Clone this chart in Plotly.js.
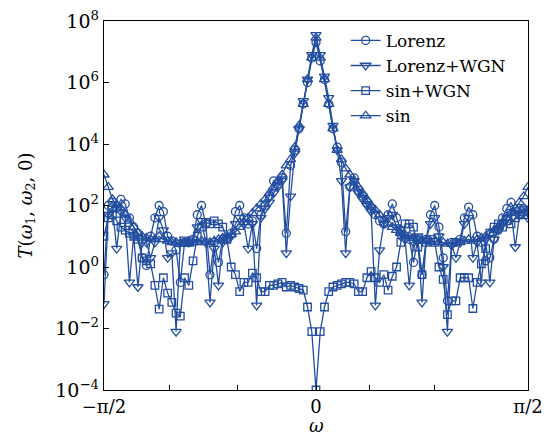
<!DOCTYPE html>
<html><head><meta charset="utf-8">
<script src="https://cdn.plot.ly/plotly-3.0.1.min.js"></script>
<style>html,body{margin:0;padding:0;background:#fff}#chart{width:547px;height:437px}</style>
</head><body><div id="chart"></div>
<script>
// log10 of T(w1,w2,0), left edge (-pi/2) to right edge (pi/2)
const seriesNames = ['Lorenz', 'Lorenz+WGN', 'sin+WGN', 'sin'];

const lorenzLog = [
 -0.25, 2.0, 2.1, 1.9, 2.2, 2.05, 1.6, 1.3, 1.1, 0.3,
 0.05, 1.0, 1.6, 2.0, 1.8, 1.0, 0.85, 0.55, -0.5, 0.8,
 0.8, 0.9, 1.7, 2.0, 1.4, -0.25, 0.8, 0.15, 0.9, 0.9,
 1.1, 1.8, 2.0, 1.6, 1.4, 1.5, 0.6, 1.7, 2.0, 2.3,
 2.8, 2.7, 2.9, 1.1, 3.3, 3.8, 4.5, 5.3, 6.0, 6.8,
 7.3,
 6.7, 6.1, 5.3, 4.5, 3.9, 3.4, 1.15, 2.6, 2.9, 2.5,
 2.3, 2.1, 1.9, 1.7, 1.5, 1.4, 1.7, 2.05, 1.6, 1.2,
 1.0, 0.9, 0.15, 0.9, -0.25, 0.9, 1.7, 2.0, 1.3, 0.3,
 -1.1, 0.8, 0.8, 0.9, 1.6, 1.95, 1.7, 1.0, 0.8, 0.2,
 0.3, 0.9, 1.2, 1.6, 1.9, 2.1, 1.8, 1.7, 1.9, 1.8
];

const lorenzWgnLog = [
 -1.2, 1.7, 1.9, 0.6, 1.8, 1.6, -0.5, 1.0, -0.65, 0.8,
 0.8, 0.3, 0.8, 1.6, 1.2, 0.3, 0.45, -2.1, 0.8, 0.9,
 0.8, 0.9, 1.3, 1.5, 0.8, -1.15, 0.6, -0.6, 0.8, 0.9,
 1.0, 1.4, 1.6, 1.4, 0.6, 1.4, -1.25, 1.6, 1.9, 2.1,
 2.4, 2.6, 2.8, 0.45, 2.3, 3.7, 4.5, 5.4, 6.1, 6.9,
 7.55,
 6.9, 6.2, 5.5, 4.6, 3.8, 2.8, 0.45, 2.6, 2.8, 2.4,
 2.2, 2.0, 1.8, -1.25, 0.55, 1.4, 1.6, 1.7, 1.3, 1.0,
 0.9, -0.6, 0.8, 1.0, -1.15, 0.9, 1.4, 1.6, 1.0, 0.0,
 -2.1, 0.7, 0.3, 0.8, 1.4, 1.6, 0.3, 0.8, -0.5, 0.9,
 -0.5, 0.9, 1.2, 1.4, 1.6, 1.8, 0.65, 1.7, 1.9, 1.6
];

const sinWgnLog = [
 1.0, 1.6, 1.7, 1.5, 1.3, 1.2, 1.1, 1.0, 0.9, 0.3,
 0.2, 0.1, -0.6, -1.37, -0.35, -0.85, -1.15, -1.5, -1.6, -0.35,
 -0.6, 0.2, 1.0, 1.3, 1.45, 1.4, 1.5, 1.4, 1.3, 0.9,
 0.0, -0.25, -0.8, -0.5, -0.5, -0.2, -0.35, -0.8, -0.8, -0.6,
 -0.6, -0.55, -0.5, -0.65, -0.6, -0.65, -0.7, -0.75, -1.3, -2.1,
 -4.0,
 -2.1, -1.3, -0.8, -0.65, -0.6, -0.55, -0.5, -0.5, -0.55, -0.8,
 -0.8, -0.35, -0.15, -0.35, -0.5, -0.25, -0.75, -0.3, 0.0, 0.8,
 1.4, 1.4, 1.3, 0.65, -0.25, 0.8, 0.9, 0.8, 0.0, -0.4,
 -1.55, -1.1, -1.1, -0.35, -0.35, -0.35, -1.35, -0.5, 0.1, 0.6,
 1.1, 1.3, 1.4, 1.3, 1.5, 1.4, 1.6, 1.7, 1.8, 1.7
];

const sinLog = [
 3.0, 2.6, 2.2, 2.0, 1.9, 1.7, 1.5, 1.3, 1.1, 1.0,
 0.95, 0.9, 0.9, 1.0, 0.9, 0.85, 0.8, 0.8, 0.75, 0.75,
 0.75, 0.8, 0.8, 0.85, 0.8, 0.8, 0.85, 0.9, 0.95, 1.0,
 1.05, 1.15, 1.3, 1.45, 1.6, 1.75, 1.9, 2.05, 2.2, 2.4,
 2.6, 2.8, 3.0, 3.3, 3.5, 3.9, 4.6, 5.3, 6.1, 6.8,
 7.45,
 6.8, 6.1, 5.3, 4.5, 3.8, 3.5, 3.2, 3.0, 2.8, 2.6,
 2.4, 2.2, 2.0, 1.85, 1.7, 1.55, 1.4, 1.3, 1.2, 1.1,
 1.05, 1.0, 0.95, 0.9, 0.85, 0.85, 0.8, 0.85, 0.8, 0.8,
 0.75, 0.75, 0.8, 0.8, 0.85, 0.9, 0.85, 0.9, 0.95, 1.0,
 1.1, 1.2, 1.3, 1.45, 1.6, 1.75, 1.9, 2.1, 2.3, 2.6
];

const xTickVals = [-Math.PI/2, -1.089, -0.585, 0, 0.393, 0.881, Math.PI/2];
const xTickText = ['\u2212\u03c0/2', '', '', '0', '', '', '\u03c0/2'];
const yTickVals = [1e-4, 1e-2, 1, 1e2, 1e4, 1e6, 1e8];
const yTickText = ['10<sup>\u22124</sup>', '10<sup>\u22122</sup>', '10<sup>0</sup>', '10<sup>2</sup>', '10<sup>4</sup>', '10<sup>6</sup>', '10<sup>8</sup>'];
const xTitle = '<i>\u03c9</i>';
const yTitle = '<i>T</i>(<i>\u03c9</i><sub>1</sub>, <i>\u03c9</i><sub>2</sub>, 0)';

const nPts = lorenzLog.length;
const omega = lorenzLog.map((_, i) => -Math.PI/2 + i * Math.PI / (nPts - 1));
const toLin = arr => arr.map(v => Math.pow(10, v));

const blue = '#234ea0';
const symbols = ['circle-open', 'triangle-down-open', 'square-open', 'triangle-up-open'];
const sizes = [8, 9, 7.5, 9];
const allLogs = [lorenzLog, lorenzWgnLog, sinWgnLog, sinLog];

const traces = allLogs.map((arr, j) => ({
  type: 'scatter', mode: 'lines+markers', name: seriesNames[j],
  x: omega, y: toLin(arr),
  line: {color: blue, width: 1.3},
  marker: {symbol: symbols[j], size: sizes[j], color: blue, line: {color: blue, width: 1.3}}
}));

const axisCommon = {
  showline: true, linecolor: '#000', linewidth: 1.2, mirror: true,
  showgrid: false, zeroline: false, ticks: 'inside', ticklen: 5, tickwidth: 1, tickcolor: '#000',
  tickfont: {family: 'DejaVu Serif', size: 19, color: '#000'}
};

const layout = {
  width: 547, height: 437,
  margin: {l: 104, r: 19, t: 21, b: 47},
  paper_bgcolor: '#fff', plot_bgcolor: '#fff',
  font: {family: 'DejaVu Serif', color: '#000'},
  showlegend: true,
  legend: {x: 0.57, y: 0.995, xanchor: 'left', yanchor: 'top', bgcolor: 'rgba(0,0,0,0)',
           font: {family: 'DejaVu Serif', size: 17, color: '#000'}, tracegroupgap: 0},
  xaxis: Object.assign({}, axisCommon, {
    range: [-Math.PI/2, Math.PI/2], tickmode: 'array', tickvals: xTickVals, ticktext: xTickText,
    tickfont: {family: 'DejaVu Serif', size: 18, color: '#000'}
  }),
  yaxis: Object.assign({}, axisCommon, {
    type: 'log', range: [-4, 8], tickmode: 'array', tickvals: yTickVals, ticktext: yTickText,
    title: {text: yTitle, font: {family: 'DejaVu Serif', size: 18}, standoff: 18}
  }),
  annotations: [{
    text: xTitle, xref: 'paper', yref: 'paper', x: 0.5, y: -0.127,
    xanchor: 'center', yanchor: 'bottom', showarrow: false, borderpad: 0,
    font: {family: 'DejaVu Serif', size: 18, color: '#000'}
  }]
};

Plotly.newPlot('chart', traces, layout, {displayModeBar: false, staticPlot: true});
</script>
</body></html>
